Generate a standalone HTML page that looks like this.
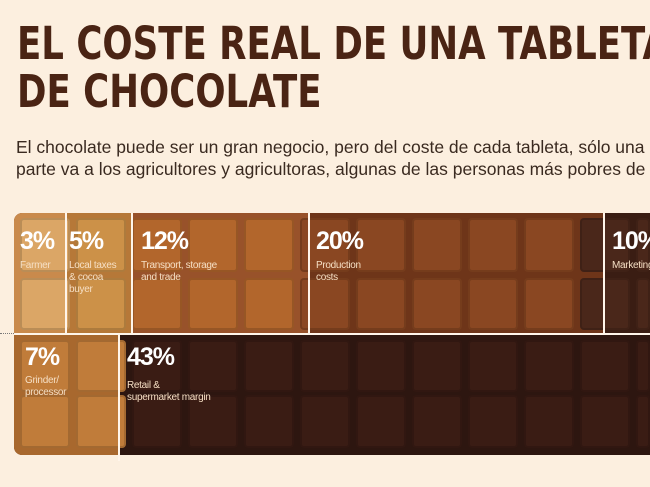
<!DOCTYPE html>
<html><head><meta charset="utf-8"><style>
body{margin:0;width:650px;height:487px;overflow:hidden;background:#fcefdf;font-family:"Liberation Sans",sans-serif;position:relative}
.a{position:absolute}
h1{position:absolute;left:17px;top:20px;margin:0;font:900 45px/48px "DejaVu Sans","Liberation Sans",sans-serif;color:#4a2414;letter-spacing:0px;white-space:nowrap;transform:scaleX(0.79);transform-origin:left}
.p{left:16px;top:136px;font-size:17.5px;line-height:22px;color:#3a2a20;white-space:nowrap}
.sq{position:absolute;border-radius:4px;box-shadow:inset 0 0 0 2px rgba(0,0,0,0.15)}
.pc{position:absolute;color:#fff;font:bold 25px/26px "Liberation Sans Narrow","Liberation Sans",sans-serif;letter-spacing:-1px}
.lb{position:absolute;color:#f6dfc4;font-size:10px;line-height:12px;letter-spacing:-0.3px}
.vl{position:absolute;width:2px;background:#fff5ea}
</style></head><body>
<h1>EL COSTE REAL DE UNA TABLETA<br>DE CHOCOLATE</h1>
<div class="a p">El chocolate puede ser un gran negocio, pero del coste de cada tableta, sólo una<br>parte va a los agricultores y agricultoras, algunas de las personas más pobres de</div>
<div class="a" style="left:14px;top:213px;width:636px;height:242px;border-radius:8px 0 0 8px;background:#6b3418;overflow:hidden">
<div class="a" style="left:0;top:0;width:51px;height:120px;background:#c98a4c"></div>
<div class="a" style="left:51px;top:0;width:66px;height:120px;background:#b67838"></div>
<div class="a" style="left:117px;top:0;width:177px;height:120px;background:#98522a"></div>
<div class="a" style="left:294px;top:0;width:296px;height:120px;background:#6e3519"></div>
<div class="a" style="left:590px;top:0;width:70px;height:120px;background:#3a1d13"></div>
<div class="a" style="left:0;top:122px;width:104px;height:120px;background:#a8682e"></div>
<div class="a" style="left:104px;top:122px;width:560px;height:120px;background:#2d1610"></div>
</div>
<div id="g"></div>
<div class="vl" style="left:65px;top:213px;height:120px"></div>
<div class="vl" style="left:131px;top:213px;height:120px"></div>
<div class="vl" style="left:308px;top:213px;height:120px"></div>
<div class="vl" style="left:603px;top:213px;height:120px"></div>
<div class="a" style="left:14px;top:333px;width:636px;height:2px;background:#fff5ea"></div>
<div class="vl" style="left:118px;top:333px;height:128px"></div>
<div class="a" style="left:0;top:333px;width:14px;border-top:1px dotted #777"></div>
<div class="pc" style="left:20px;top:228px">3%</div>
<div class="lb" style="left:20px;top:260px">Farmer</div>
<div class="pc" style="left:69px;top:228px">5%</div>
<div class="lb" style="left:69px;top:260px">Local taxes<br>&amp; cocoa<br>buyer</div>
<div class="pc" style="left:141px;top:228px">12%</div>
<div class="lb" style="left:141px;top:260px">Transport, storage<br>and trade</div>
<div class="pc" style="left:316px;top:228px">20%</div>
<div class="lb" style="left:316px;top:260px">Production<br>costs</div>
<div class="pc" style="left:612px;top:228px">10%</div>
<div class="lb" style="left:612px;top:260px">Marketing</div>
<div class="pc" style="left:25px;top:344px">7%</div>
<div class="lb" style="left:25px;top:375px">Grinder/<br>processor</div>
<div class="pc" style="left:127px;top:344px">43%</div>
<div class="lb" style="left:127px;top:380px">Retail &amp;<br>supermarket margin</div>
<script>
var g=document.getElementById('g'),h='';
function col(x,r){if(r<2){if(x<65)return'#dba666';if(x<131)return'#cc9148';if(x<300)return'#b2662c';if(x<595)return'#8a4722';return'#4a271a';}
if(x<118)return'#c07c3a';return'#3a1c14';}
var ys=[218,278,340,395],hs=[54,52,52,53];
for(var r=0;r<4;r++)for(var i=0;i<12;i++){var x=20+56*i;var w=Math.min(50,650-x);
h+='<div class="sq" style="left:'+x+'px;top:'+ys[r]+'px;width:'+w+'px;height:'+hs[r]+'px;background:'+col(x+25,r)+'"></div>';}
g.innerHTML=h;
</script>
</body></html>
